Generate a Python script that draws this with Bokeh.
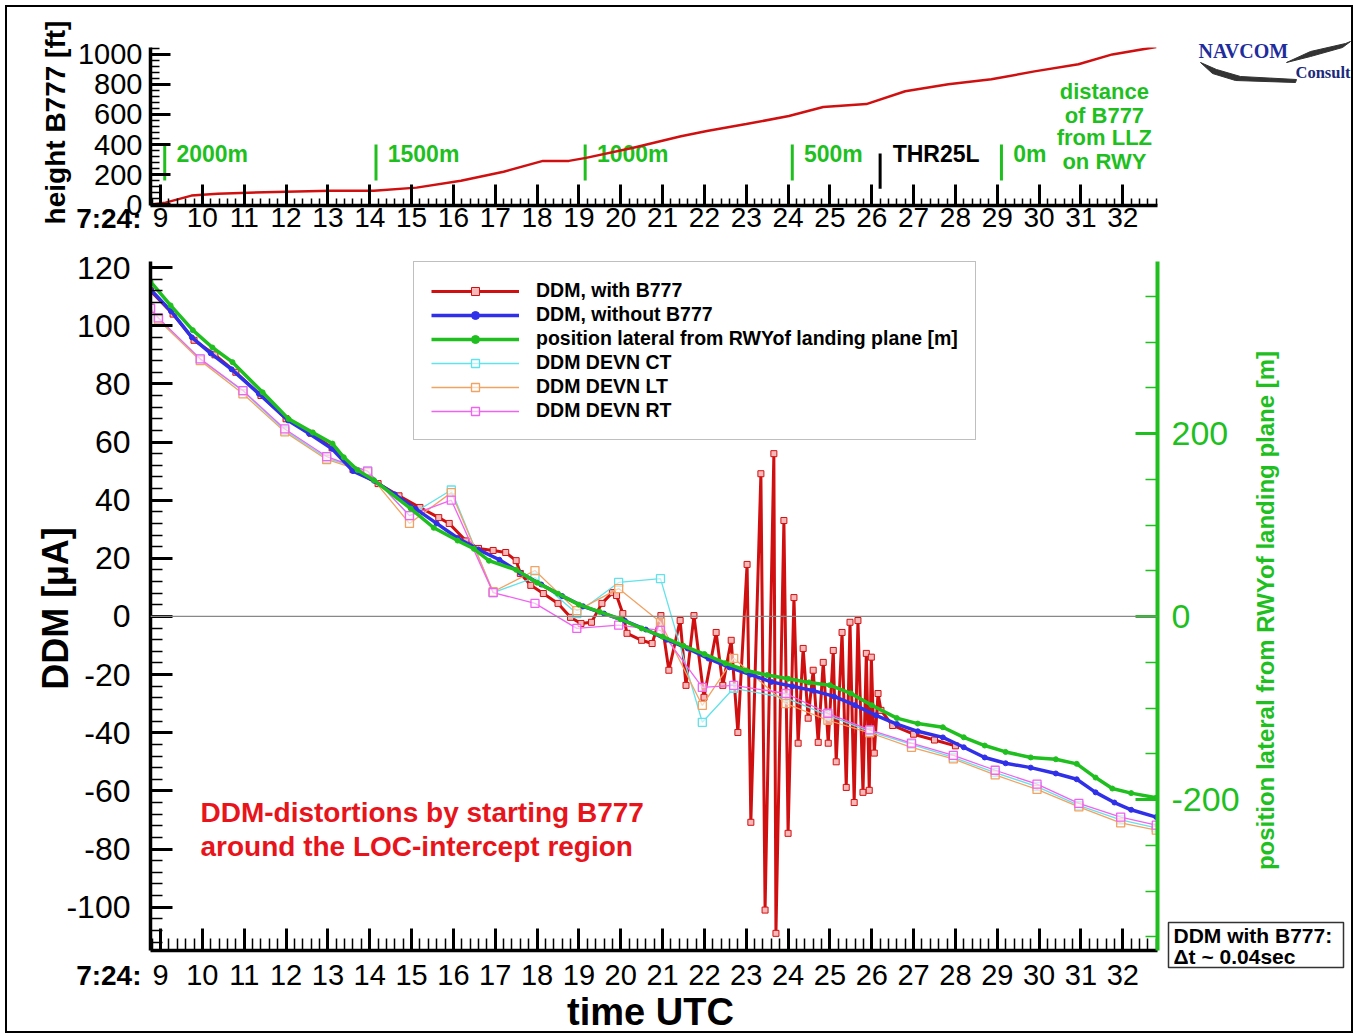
import numpy as np
from bokeh.plotting import figure
from bokeh.models import (Range1d, LinearAxis, FixedTicker, Span, Label, Legend,
                          LegendItem, GridBox)
from bokeh.layouts import column
from bokeh.embed import file_html
from bokeh.resources import INLINE
from bokeh.core.properties import value

FONT = "Liberation Sans"
RED = "#d01010"
BLUE = "#3030e8"
GREEN = "#1fbf1f"
CYAN = "#62e2ea"
ORANGE = "#f2a262"
MAGENTA = "#f062f0"

# ---------------- data ----------------
# top panel: height of B777 [ft] vs seconds after 7:24:00
height_t = [8.76, 9.12, 9.74, 10.36, 12.0, 13.07, 14.1, 15.12, 16.18, 17.2, 18.14, 18.76,
            19.17, 20.3, 21.44, 22.06, 23.0, 24.02, 24.84, 25.87, 26.8, 27.83, 28.86,
            29.89, 30.94, 31.75, 32.8]
height_ft = [0, 13, 60, 73, 86, 93, 93, 113, 159, 219, 291, 291, 311, 378, 455, 490, 536,
             590, 650, 669, 755, 801, 834, 887, 934, 1000, 1050]

dist_t = [9.1, 14.15, 19.15, 24.1, 29.1]
dist_labels = ["2000m", "1500m", "1000m", "500m", "0m"]
thr_t = 26.2
thr_label = "THR25L"
dist_note = ["distance", "of B777", "from LLZ", "on RWY"]

# bottom panel
red_t = [8.76, 9.3, 9.8, 10.3, 10.8, 11.4, 12.0, 12.6, 13.1, 13.6, 14.2, 14.7, 15.2, 15.65,
         15.9, 16.3, 16.6, 16.95, 17.25, 17.5, 17.6, 17.85, 18.15, 18.5, 18.8, 19.05, 19.3,
         19.55, 19.8, 19.9, 20.05, 20.15, 20.5, 20.75,
         20.96, 21.15, 21.42, 21.56, 21.75, 21.99, 22.28, 22.44, 22.64, 22.8, 23.02, 23.11,
         23.35, 23.45, 23.66, 23.71, 23.9, 24.0, 24.14, 24.24, 24.36, 24.48, 24.6, 24.72,
         24.84, 24.96, 25.08, 25.15, 25.29, 25.39, 25.48, 25.58, 25.67, 25.79, 25.87, 25.94,
         25.99, 26.06, 26.15, 26.22, 26.5, 27.0, 27.5, 28.0]
red_ddm = [112, 104, 95, 90, 84, 76, 68, 63, 58, 50.5, 45.7, 41.5, 37.5, 34,
           32, 26, 23.4, 22.7, 22, 19.2, 14.8, 10.7, 7.9, 4.5, -0.3, -2.4, -2,
           4.5, 8.2, 7.2, 1, -5.8, -8.2, -9.3,
           0.3, -18.5, -1.4, -23.7, 0.3, -27.8, -5.5, -23.7, -8.2, -39.9, 17.9, -70.8,
           49.1, -101, 56, -109, 33, -74.6, 6.5, -43.6, -11, -35, -18.5, -43.3,
           -15.8, -43.6, -11.7, -50, -5.5, -58.8, -2, -64, -1.4, -60.5, -12.7, -59.8,
           -14, -47, -26.5, -32.3, -37.5, -40.5, -42.5, -44.5]

blue_t = [8.76, 9.25, 9.75, 10.2, 10.7, 11.35, 12.05, 12.55, 13.1, 13.6, 14.1, 14.6, 15.1,
          15.6, 16.1, 16.6, 17.1, 17.6, 18.1, 18.6, 19.1, 19.6, 20.1, 20.6, 21.1, 21.6,
          22.1, 22.6, 23.1, 23.6, 24.1, 24.6, 25.1, 25.6, 26.1, 26.6, 27.1, 27.7, 28.2,
          28.7, 29.2, 29.8, 30.4, 30.9, 31.35, 31.8, 32.2, 32.8]
blue_ddm = [112.5, 105, 96, 90.5, 85, 76.6, 67.4, 62.9, 57.7, 50, 46.7, 42, 37,
            32, 27, 23, 19.5, 15, 11, 7, 3.5, 1, -1.5, -4.5, -8, -11,
            -14.5, -17.5, -20, -22.5, -24, -25.5, -27.5, -30.5, -34, -37, -39.5, -41.6, -45,
            -48.5, -50.5, -52, -54, -56, -60.5, -64, -66.5, -69]

green_t = [8.76, 9.24, 9.77, 10.24, 10.72, 11.44, 12.06, 12.64, 13.11, 13.38, 13.71, 14.1,
           14.98, 15.53, 16.1, 16.49, 16.85, 17.5, 18.0, 18.5, 19.0, 19.5, 20.0, 20.5, 21.0,
           21.5, 22.0, 22.5, 23.0, 23.5, 24.0, 24.5, 25.0, 25.5, 26.0, 26.6, 27.1, 27.7,
           28.2, 28.7, 29.2, 29.8, 30.4, 30.9, 31.35, 31.75, 32.2, 32.8]
green_m = [366, 340, 313, 294, 278, 245, 216, 201, 189, 174, 160, 149,
           118, 97, 83, 74, 61, 51, 37, 25, 13, 5, -3, -13, -22,
           -32, -41, -51, -59, -64, -68, -72, -75, -84, -97, -111, -117, -121,
           -132, -141, -148, -154, -156, -161, -176, -188, -193, -198]

thin_t = [8.76, 8.95, 9.95, 10.97, 11.97, 12.97, 13.95, 14.95, 15.95, 16.95, 17.95, 18.95,
          19.95, 20.95, 21.95, 22.7, 23.95, 24.95, 25.95, 26.95, 27.95, 28.95, 29.95,
          30.95, 31.95, 32.8]
ct_ddm = [106, 102.5, 88.5, 77.5, 64, 54.5, 50, 34.7, 43.5, 8.2, 13.4, 1, 11.7, 13, -36.4,
          -24.7, -28, -34, -39.5, -44, -48.5, -53.7, -58.5, -65, -70, -72.7]
lt_ddm = [106, 102, 88, 76.6, 63.5, 54, 49.5, 32, 42.6, 8.5, 15.8, 2, 9.6, -2, -30.6,
          -14.4, -30, -35.7, -40, -45, -49, -54.5, -59.5, -65.5, -71, -73.5]
rt_ddm = [106, 102.7, 88.6, 77.7, 64.5, 55, 50, 34.7, 40, 8.2, 4.5, -4.1, -3, -4.8, -24.4,
          -23.7, -26.5, -33.3, -39, -43.6, -47.8, -52.9, -57.7, -64.3, -69, -71.8]

sec_ticks = list(range(9, 33))
ddm_ticks = list(range(-100, 121, 20))
pos_ticks = [-200, 0, 200]
height_ticks = list(range(0, 1001, 200))

legend_labels = ["DDM, with B777", "DDM, without B777",
                 "position lateral from RWYof landing plane [m]",
                 "DDM DEVN CT", "DDM DEVN LT", "DDM DEVN RT"]

X_RANGE = (8.76, 32.83)
W = 1344          # inner width of the framed page
H_TOP, H_BOT = 243, 781
H_ALL = H_TOP + H_BOT
OFF = 7           # page offset of the content (margin + frame)


def style_axis(ax, tick_in, minor_in, label_size, standoff, color="black", lw=3.5):
    ax.axis_line_width = lw
    ax.axis_line_color = color
    ax.major_tick_line_color = color
    ax.minor_tick_line_color = color
    ax.major_tick_in = tick_in
    ax.major_tick_out = 0
    ax.minor_tick_in = minor_in
    ax.minor_tick_out = 0
    ax.major_tick_line_width = 3
    ax.minor_tick_line_width = 1.5
    ax.major_label_text_font = FONT
    ax.major_label_text_font_size = label_size
    ax.major_label_text_font_style = "normal"
    ax.major_label_text_color = color
    ax.major_label_standoff = standoff


# ---------------- top panel ----------------
top = figure(width=W, height=H_TOP, x_range=Range1d(*X_RANGE), y_range=Range1d(-6, 1046),
             output_backend="svg", toolbar_location=None, title=None,
             min_border_left=143, min_border_right=194, min_border_top=40,
             min_border_bottom=45)
top.outline_line_color = None
top.xgrid.visible = False
top.ygrid.visible = False
top.xaxis.ticker = FixedTicker(ticks=sec_ticks,
                               minor_ticks=[round(v, 2) for v in np.arange(8.8, 32.85, 0.2)])
top.yaxis.ticker = FixedTicker(ticks=height_ticks, minor_ticks=list(range(0, 1041, 40)))
style_axis(top.xaxis[0], 21, 7, "28px", 2)
style_axis(top.yaxis[0], 20, 9, "29px", 8)

top.segment(x0=dist_t, y0=[160] * len(dist_t), x1=dist_t, y1=[400] * len(dist_t),
            line_color=GREEN, line_width=3)
top.segment(x0=[thr_t], y0=[105], x1=[thr_t], y1=[340], line_color="black", line_width=3)
top.text(x=[t + 0.28 for t in dist_t], y=[340] * len(dist_t), text=dist_labels,
         text_font=value(FONT), text_font_style="bold", text_font_size="23px",
         text_color=GREEN, text_baseline="middle")
top.text(x=[thr_t + 0.3], y=[340], text=[thr_label], text_font=value(FONT),
         text_font_style="bold", text_font_size="23px", text_color="black",
         text_baseline="middle")
top.text(x=[31.56] * 4, y=[755, 596, 444, 285], text=dist_note, text_font=value(FONT),
         text_font_style="bold", text_font_size="22px", text_color=GREEN,
         text_baseline="middle", text_align="center")
top.line(height_t, height_ft, line_color=RED, line_width=2.5)

# ---------------- bottom panel ----------------
bot = figure(width=W, height=H_BOT, x_range=Range1d(*X_RANGE),
             y_range=Range1d(-114.9, 122.1), output_backend="svg", toolbar_location=None,
             title=None, min_border_left=143, min_border_right=194, min_border_top=11,
             min_border_bottom=81)
bot.extra_y_ranges = {"pos": Range1d(-365.0, 388.0)}
bot.outline_line_color = None
bot.xgrid.visible = False
bot.ygrid.visible = False
bot.xaxis.ticker = FixedTicker(ticks=sec_ticks,
                               minor_ticks=[round(v, 2) for v in np.arange(8.8, 32.85, 0.2)])
bot.yaxis.ticker = FixedTicker(ticks=ddm_ticks, minor_ticks=list(range(-112, 121, 4)))
bot.yaxis.major_label_overrides = {v: str(v) for v in ddm_ticks}
style_axis(bot.xaxis[0], 22, 12, "29px", 14)
style_axis(bot.yaxis[0], 22, 12, "32px", 20)
right_ax = LinearAxis(y_range_name="pos",
                      ticker=FixedTicker(ticks=pos_ticks, minor_ticks=list(range(-350, 351, 50))))
right_ax.major_label_overrides = {v: str(v) for v in pos_ticks}
bot.add_layout(right_ax, "right")
style_axis(right_ax, 22, 12, "34px", 14, color=GREEN, lw=4)

bot.add_layout(Span(location=0, dimension="width", line_color="#888888", line_width=1.2))

r_red = bot.line(red_t, red_ddm, line_color=RED, line_width=3)
s_red = bot.scatter(red_t, red_ddm, marker="square", size=6, line_color=RED,
                    fill_color="#f6b8b8", line_width=1)
thin = []
for vals, col in ((ct_ddm, CYAN), (lt_ddm, ORANGE), (rt_ddm, MAGENTA)):
    rl = bot.line(thin_t, vals, line_color=col, line_width=1.3)
    rs = bot.scatter(thin_t, vals, marker="square", size=8, line_color=col,
                     fill_color="white", fill_alpha=0.6, line_width=1.3)
    thin.append((rl, rs))
r_blue = bot.line(blue_t, blue_ddm, line_color=BLUE, line_width=3.5)
s_blue = bot.scatter(blue_t, blue_ddm, marker="circle", size=5, line_color=BLUE,
                     fill_color=BLUE)
r_green = bot.line(green_t, green_m, line_color=GREEN, line_width=3.5, y_range_name="pos")
s_green = bot.scatter(green_t, green_m, marker="circle", size=5, line_color=GREEN,
                      fill_color=GREEN, y_range_name="pos")

rends = [[r_red, s_red], [r_blue, s_blue], [r_green, s_green]] + [list(t) for t in thin]
legend = Legend(items=[LegendItem(label=lab, renderers=rr) for lab, rr in zip(legend_labels, rends)],
                location=(263, 510), margin=0, padding=17, spacing=1,
                glyph_width=88, glyph_height=20, label_height=20, label_standoff=17,
                label_text_font=FONT, label_text_font_style="bold",
                label_text_font_size="19.5px", label_text_color="black",
                border_line_color="#808080", border_line_width=1.5,
                background_fill_color="white", background_fill_alpha=1)
bot.add_layout(legend, "center")

for txt, yy in (("DDM-distortions by starting B777", 138), ("around the LOC-intercept region", 104)):
    bot.add_layout(Label(text=txt, x=50, y=yy, x_units="screen", y_units="screen",
                         text_font=FONT, text_font_size="28px", text_font_style="bold",
                         text_color="#e8141b", text_baseline="middle"))

# ---------------- overlay for texts outside the plot frames ----------------
ov = figure(width=W, height=H_ALL, x_range=Range1d(0, W), y_range=Range1d(0, H_ALL),
            output_backend="svg", toolbar_location=None, title=None,
            x_axis_type=None, y_axis_type=None, min_border=0,
            min_border_left=0, min_border_right=0, min_border_top=0, min_border_bottom=0)
ov.outline_line_color = None
ov.background_fill_color = None
ov.border_fill_color = None


def px(x):
    return x - OFF


def py(y):
    return H_ALL - (y - OFF)


def otext(txt, x, y, size, color="black", style="bold", align="left", baseline="middle",
          angle=0.0, font=FONT):
    ov.text(x=[px(x)], y=[py(y)], text=[txt], text_font=value(font), text_font_size=size,
            text_font_style=style, text_color=color, text_align=align,
            text_baseline=baseline, angle=angle)


otext("height B777 [ft]", 55, 122, "28px", align="center", angle=np.pi / 2)
otext("7:24:", 141, 218, "28px", align="right")
otext("7:24:", 141, 975, "28px", align="right")
otext("DDM [\u00b5A]", 55, 608, "36px", align="center", angle=np.pi / 2)
otext("time UTC", 650, 1011, "38px", align="center")
otext("position lateral from RWYof landing plane [m]", 1265, 610, "24px", color=GREEN,
      align="center", angle=np.pi / 2)
otext("NAVCOM", 1198, 50, "20px", color="#1f2d9c", font="Liberation Serif")
otext("Consult", 1295, 72, "16.5px", color="#1b2a7a", font="Liberation Serif")
sw1 = [(1200, 62), (1212, 73), (1235, 80), (1295, 82), (1296, 79), (1240, 76), (1216, 69)]
sw2 = [(1286, 62), (1310, 51), (1345, 43), (1350, 41), (1342, 47), (1310, 56)]
for sw in (sw1, sw2):
    ov.patch([px(a) for a, b in sw], [py(b) for a, b in sw], fill_color="#333333",
             line_color="#333333", line_width=1)
ov.quad(left=[px(1168)], right=[px(1343)], top=[py(922)], bottom=[py(967)],
        fill_color="white", line_color="#333333", line_width=1.5)
otext("DDM with B777:", 1173, 935, "21px")
otext("\u0394t ~ 0.04sec", 1173, 956, "21px")

main = column(top, bot)
layout = GridBox(children=[(main, 0, 0), (ov, 0, 0)],
                 styles={"border": "2px solid black", "margin-left": "5px",
                         "margin-top": "5px"})
open("out.html", "w").write(file_html(layout, INLINE))
